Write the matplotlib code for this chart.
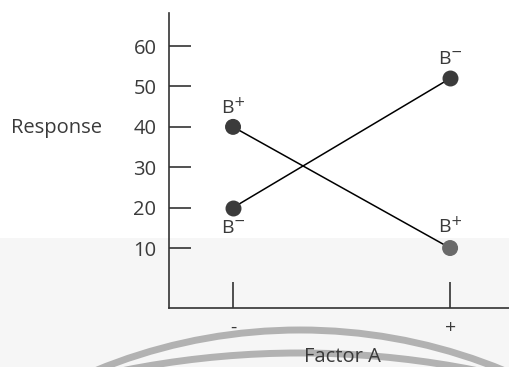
import matplotlib.pyplot as plt
from matplotlib.patches import Arc, Rectangle

# data
factor_a = ["-", "+"]
b_plus = [40, 10]
b_minus = [20, 52]
y_ticks = [10, 20, 30, 40, 50, 60]

plt.rcParams['font.family'] = ['Open Sans', 'DejaVu Sans']
txt_color = "#3a3a3a"

W, H = 510, 367
fig = plt.figure(figsize=(W / 100, H / 100), dpi=100)

# scanned page background + watermark arcs (pixel coords)
bg = fig.add_axes([0, 0, 1, 1], zorder=-5)
bg.set_xlim(0, W)
bg.set_ylim(H, 0)
bg.axis("off")
bg.add_patch(Rectangle((0, 238), W, H - 238, color="#f6f6f6", lw=0))
bg.add_patch(Arc((300, 865), 2 * 535, 2 * 535, theta1=190, theta2=350,
                 color="#b2b2b2", lw=5))
bg.add_patch(Arc((300, 1253), 2 * 900, 2 * 900, theta1=190, theta2=350,
                 color="#b2b2b2", lw=5))

ax = fig.add_axes([169 / W, (H - 308) / H, (W - 169) / W, (308 - 13) / H])
ax.patch.set_alpha(0)
x = range(len(factor_a))

ax.plot(x, b_plus, color="black", lw=1.1, zorder=2)
ax.plot(x, b_minus, color="black", lw=1.1, zorder=2)
ax.scatter([0, 1], b_plus, s=110, color=["#3b3b3b", "#6a6a6a"], zorder=3)
ax.scatter([0, 1], b_minus, s=110, color="#3b3b3b", zorder=3)

lab_kw = dict(textcoords="offset points", ha="center", va="center",
              fontsize=14, color=txt_color)
ax.annotate("B$^{+}$", (0, b_plus[0]), xytext=(0, 14), **lab_kw)
ax.annotate("B$^{-}$", (0, b_minus[0]), xytext=(0, -15), **lab_kw)
ax.annotate("B$^{-}$", (1, b_minus[1]), xytext=(0, 14), **lab_kw)
ax.annotate("B$^{+}$", (1, b_plus[1]), xytext=(0, 15), **lab_kw)

ax.set_xlim(-0.295, 1.276)
ax.set_ylim(-4.85, 68.2)
ax.set_xticks(list(x))
ax.set_xticklabels(factor_a)
ax.set_yticks(y_ticks)
ax.set_yticklabels([str(v) for v in y_ticks])

for s in ["top", "right"]:
    ax.spines[s].set_visible(False)
for s in ["left", "bottom"]:
    ax.spines[s].set_linewidth(1.2)
    ax.spines[s].set_color("#333333")

ax.tick_params(axis="y", direction="in", length=16, width=1.2, color="#333333",
               pad=9, labelsize=14.5, labelcolor=txt_color)
ax.tick_params(axis="x", direction="in", length=19, width=1.2, color="#333333",
               pad=8, labelsize=14, labelcolor=txt_color)

fig.text(57 / W, 1 - 128 / H, "Response", ha="center", va="center",
         fontsize=14.5, color=txt_color)
fig.text(342 / W, 1 - 357 / H, "Factor A", ha="center", va="center",
         fontsize=14.5, color=txt_color)

fig.savefig("out.png", dpi=100)
